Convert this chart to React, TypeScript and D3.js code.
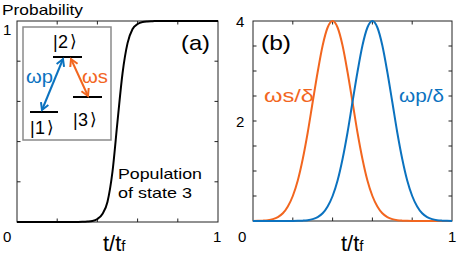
import React from "react";
import * as d3 from "d3";

const tValues = [
  0, 0.025, 0.05, 0.075, 0.1, 0.125, 0.15, 0.175, 0.2, 0.225, 0.25, 0.275, 0.3, 0.325, 0.35, 0.375, 0.4,
  0.425, 0.45, 0.475, 0.5, 0.525, 0.55, 0.575, 0.6, 0.625, 0.65, 0.675, 0.7, 0.725, 0.75, 0.775, 0.8,
  0.825, 0.85, 0.875, 0.9, 0.925, 0.95, 0.975, 1,
];
const population3 = [
  0, 0, 0, 0, 0, 0, 0, 0, 0, 0, 0, 0, 0.0002, 0.0007, 0.002, 0.005, 0.015,
  0.04, 0.1, 0.25, 0.5, 0.74, 0.89, 0.96, 0.985, 0.995, 0.998, 0.999, 1, 1, 1, 1, 1,
  1, 1, 1, 1, 1, 1, 1, 1,
];
const omegaS = [
  0.001, 0.003, 0.007, 0.016, 0.037, 0.078, 0.154, 0.29, 0.5, 0.81, 1.24, 1.77, 2.38, 2.98, 3.51, 3.87, 4,
  3.87, 3.51, 2.98, 2.38, 1.77, 1.24, 0.81, 0.5, 0.29, 0.154, 0.078, 0.037, 0.016, 0.007, 0.003, 0.001,
  0, 0, 0, 0, 0, 0, 0, 0,
];
const omegaP = [
  0, 0, 0, 0, 0, 0, 0, 0, 0.001, 0.003, 0.007, 0.016, 0.037, 0.078, 0.154, 0.29, 0.5,
  0.81, 1.24, 1.77, 2.38, 2.98, 3.51, 3.87, 4, 3.87, 3.51, 2.98, 2.38, 1.77, 1.24, 0.81, 0.5,
  0.29, 0.154, 0.078, 0.037, 0.016, 0.007, 0.003, 0.001,
];
const xTicks = [0.2, 0.4, 0.6, 0.8];
const yTicksA = [0.2, 0.4, 0.6, 0.8];
const yTicksB = [0.5, 1, 1.5, 2, 2.5, 3, 3.5];

const BLUE = "#0b72bf";
const ORANGE = "#f2661f";
const FONT = "'Liberation Sans', Arial, sans-serif";

function Frame({ x, y, xt, yt }: any) {
  const [x0, x1] = x.range();
  const [y0, y1] = y.range(); // y0 bottom, y1 top
  const L = 3.5;
  return (
    <g stroke="#222" strokeWidth={1} fill="none">
      <rect x={x0} y={y1} width={x1 - x0} height={y0 - y1} />
      {xt.map((v: number) => (
        <g key={"x" + v}>
          <line x1={x(v)} x2={x(v)} y1={y0} y2={y0 - L} />
          <line x1={x(v)} x2={x(v)} y1={y1} y2={y1 + L} />
        </g>
      ))}
      {yt.map((v: number) => (
        <g key={"y" + v}>
          <line x1={x0} x2={x0 + L} y1={y(v)} y2={y(v)} />
          <line x1={x1} x2={x1 - L} y1={y(v)} y2={y(v)} />
        </g>
      ))}
    </g>
  );
}

function Arrow({ x1, y1, x2, y2, color }: any) {
  const ang = Math.atan2(y2 - y1, x2 - x1);
  const h = 7, w = 4;
  const head = (px: number, py: number, a: number) => {
    const bx = px - h * Math.cos(a), by = py - h * Math.sin(a);
    return `M${bx + w * Math.cos(a + Math.PI / 2)},${by + w * Math.sin(a + Math.PI / 2)} L${px},${py} L${bx - w * Math.cos(a + Math.PI / 2)},${by - w * Math.sin(a + Math.PI / 2)}`;
  };
  return (
    <g stroke={color} strokeWidth={2} fill="none">
      <line x1={x1} y1={y1} x2={x2} y2={y2} />
      <path d={head(x2, y2, ang)} />
      <path d={head(x1, y1, ang + Math.PI)} />
    </g>
  );
}

function Ket({ x, y, n }: any) {
  return (
    <g fontSize={18}>
      <text x={x} y={y}>|</text>
      <text x={x + 5} y={y}>{n}</text>
      <text x={x + 17} y={y - 1} fontFamily="'DejaVu Sans'" fontSize={17}>⟩</text>
    </g>
  );
}

export default function App() {
  const xa = d3.scaleLinear().domain([0, 1]).range([17, 218]);
  const ya = d3.scaleLinear().domain([0, 1]).range([222, 21]);
  const xb = d3.scaleLinear().domain([0, 1]).range([253, 452]);
  const yb = d3.scaleLinear().domain([0, 4]).range([221, 21]);

  const lineA = d3.line<number>().x((_, i) => xa(tValues[i])).y((d) => ya(d)).curve(d3.curveMonotoneX);
  const lineB = d3.line<number>().x((_, i) => xb(tValues[i])).y((d) => yb(d)).curve(d3.curveMonotoneX);

  return (
    <svg width={459} height={260} style={{ position: "absolute", left: 0, top: 0, background: "#fff" }} fontFamily={FONT}>
      <rect width={459} height={260} fill="#fff" />
      {/* Panel (a) */}
      <Frame x={xa} y={ya} xt={xTicks} yt={yTicksA} />
      <path d={lineA(population3) || ""} fill="none" stroke="#000" strokeWidth={2} />
      <text x={2} y={15} fontSize={15} textLength={81} lengthAdjust="spacingAndGlyphs">Probability</text>
      <text x={3} y={35} fontSize={15}>1</text>
      <text x={3} y={242} fontSize={15}>0</text>
      <text x={213} y={242} fontSize={15}>1</text>
      <text x={103} y={251} fontSize={22}>t/t<tspan fontSize={15}>f</tspan></text>
      <text x={181} y={50} fontSize={21} textLength={29} lengthAdjust="spacingAndGlyphs">(a)</text>
      <text x={118} y={179} fontSize={15} textLength={84} lengthAdjust="spacingAndGlyphs">Population</text>
      <text x={118} y={198} fontSize={15} textLength={74} lengthAdjust="spacingAndGlyphs">of state 3</text>

      {/* Inset */}
      <rect x={23} y={27} width={88} height={113} fill="#fff" stroke="#8a8a8a" strokeWidth={1.5} />
      <g stroke="#000" strokeWidth={2}>
        <line x1={53} x2={82} y1={57} y2={57} />
        <line x1={30} x2={58} y1={112} y2={112} />
        <line x1={73} x2={102} y1={97} y2={97} />
      </g>
      <Arrow x1={42} y1={110} x2={63} y2={59} color={BLUE} />
      <Arrow x1={71} y1={59} x2={88} y2={96} color={ORANGE} />
      <Ket x={53} y={48} n="2" />
      <Ket x={30} y={134} n="1" />
      <Ket x={73} y={126} n="3" />
      <text x={26} y={83} fontSize={19} fill={BLUE} textLength={27} lengthAdjust="spacingAndGlyphs">ωp</text>
      <text x={82} y={83} fontSize={19} fill={ORANGE} textLength={26} lengthAdjust="spacingAndGlyphs">ωs</text>

      {/* Panel (b) */}
      <Frame x={xb} y={yb} xt={xTicks} yt={yTicksB} />
      <path d={lineB(omegaS) || ""} fill="none" stroke={ORANGE} strokeWidth={2} />
      <path d={lineB(omegaP) || ""} fill="none" stroke={BLUE} strokeWidth={2} />
      <text x={236} y={27} fontSize={15}>4</text>
      <text x={236} y={127} fontSize={15}>2</text>
      <text x={238} y={242} fontSize={15}>0</text>
      <text x={448} y={242} fontSize={15}>1</text>
      <text x={341} y={251} fontSize={22}>t/t<tspan fontSize={15}>f</tspan></text>
      <text x={261} y={50} fontSize={21} textLength={30} lengthAdjust="spacingAndGlyphs">(b)</text>
      <text x={264} y={102} fontSize={18} fill={ORANGE} textLength={50} lengthAdjust="spacingAndGlyphs">ωs/δ</text>
      <text x={399} y={102} fontSize={18} fill={BLUE} textLength={45} lengthAdjust="spacingAndGlyphs">ωp/δ</text>
    </svg>
  );
}
